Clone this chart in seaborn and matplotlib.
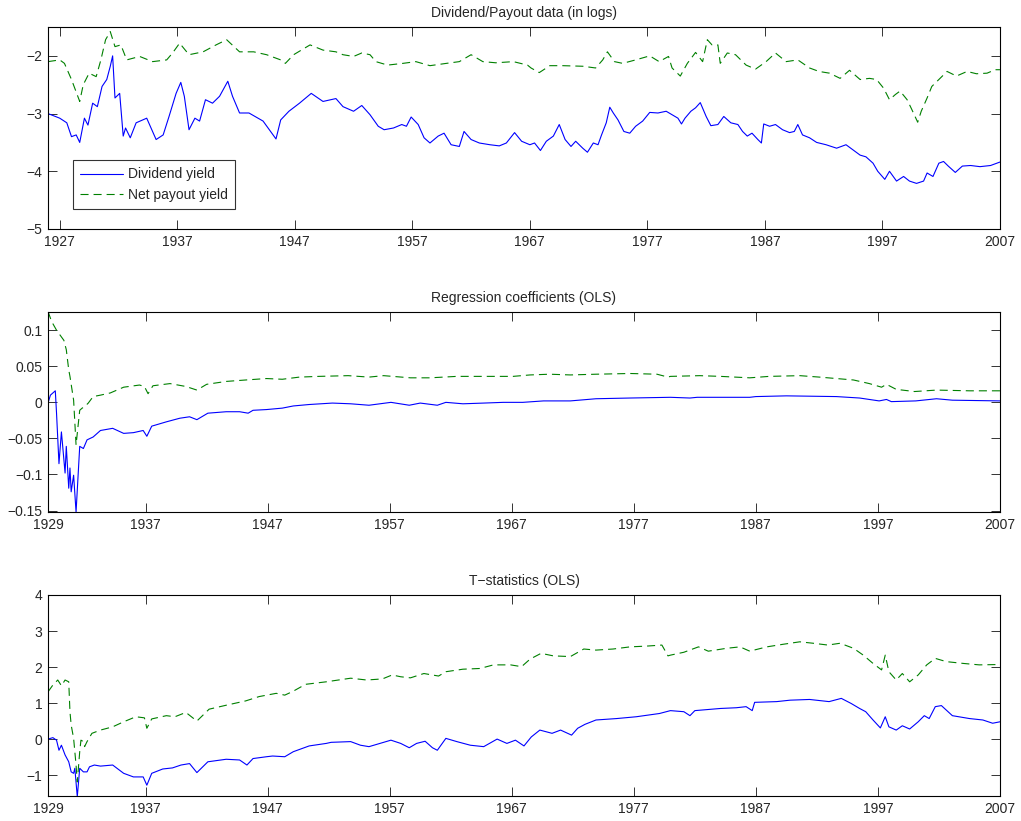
import matplotlib
matplotlib.use("Agg")
import matplotlib.pyplot as plt
import pandas as pd
import seaborn as sns

# ---- panel 1: dividend / payout data (in logs) ----
dy_years = [1926.0, 1927.0, 1927.6, 1928.0, 1928.4, 1928.7, 1929.1, 1929.4, 1929.8, 1930.2,
            1930.6, 1931.0, 1931.3, 1931.5, 1931.7, 1932.1, 1932.4, 1932.6, 1933.0, 1933.5,
            1934.4, 1935.2, 1935.8, 1936.3, 1936.9, 1937.3, 1937.6, 1938.0, 1938.5, 1938.9,
            1939.4, 1940.0, 1940.6, 1941.3, 1941.7, 1942.3, 1943.1, 1944.3, 1945.4, 1945.8,
            1946.5, 1947.4, 1948.4, 1949.4, 1950.5, 1951.1, 1952.0, 1952.7, 1953.4, 1954.1,
            1954.6, 1955.4, 1956.1, 1956.5, 1956.9, 1957.5, 1958.0, 1958.5, 1959.2, 1959.7,
            1960.3, 1961.0, 1961.4, 1962.0, 1962.7, 1963.6, 1964.4, 1965.0, 1965.7, 1966.3,
            1967.0, 1967.4, 1967.9, 1968.4, 1969.0, 1969.5, 1970.0, 1970.5, 1970.9, 1971.5,
            1971.9, 1972.4, 1972.8, 1973.1, 1973.5, 1973.8, 1974.1, 1974.5, 1975.0, 1975.5,
            1976.0, 1976.6, 1977.2, 1977.9, 1978.6, 1979.1, 1979.6, 1979.9, 1980.2, 1980.7,
            1981.1, 1981.5, 1982.0, 1982.4, 1983.0, 1983.5, 1984.1, 1984.7, 1985.1, 1985.5,
            1985.9, 1986.4, 1986.7, 1986.9, 1987.4, 1987.9, 1988.5, 1989.1, 1989.5, 1989.8,
            1990.2, 1990.8, 1991.4, 1992.2, 1993.1, 1993.9, 1994.5, 1995.1, 1995.6, 1996.2,
            1996.6, 1997.2, 1997.6, 1998.2, 1998.8, 1999.3, 1999.9, 2000.5, 2000.8, 2001.3,
            2001.8, 2002.2, 2002.6, 2003.2, 2003.8, 2004.5, 2005.3, 2006.2, 2007.0]
dy_logs = [-3.00, -3.08, -3.16, -3.40, -3.37, -3.50, -3.08, -3.20, -2.82, -2.88,
           -2.53, -2.41, -2.18, -2.00, -2.73, -2.65, -3.39, -3.25, -3.42, -3.16,
           -3.08, -3.45, -3.37, -3.05, -2.65, -2.46, -2.70, -3.28, -3.08, -3.13,
           -2.76, -2.82, -2.70, -2.44, -2.70, -2.99, -2.99, -3.13, -3.44, -3.11,
           -2.96, -2.82, -2.65, -2.79, -2.74, -2.88, -2.96, -2.86, -3.02, -3.22,
           -3.28, -3.25, -3.19, -3.22, -3.06, -3.19, -3.42, -3.51, -3.39, -3.34,
           -3.54, -3.57, -3.31, -3.45, -3.51, -3.54, -3.56, -3.51, -3.33, -3.48,
           -3.54, -3.51, -3.64, -3.48, -3.39, -3.19, -3.45, -3.57, -3.48, -3.60,
           -3.67, -3.51, -3.54, -3.37, -3.16, -2.89, -2.99, -3.11, -3.31, -3.34,
           -3.22, -3.13, -2.98, -2.99, -2.96, -3.02, -3.08, -3.18, -3.08, -2.96,
           -2.90, -2.81, -3.05, -3.21, -3.19, -3.05, -3.16, -3.19, -3.31, -3.39,
           -3.34, -3.45, -3.51, -3.18, -3.22, -3.19, -3.28, -3.33, -3.31, -3.19,
           -3.37, -3.42, -3.50, -3.54, -3.60, -3.54, -3.63, -3.72, -3.75, -3.86,
           -4.00, -4.14, -4.00, -4.17, -4.09, -4.17, -4.21, -4.17, -4.03, -4.09,
           -3.86, -3.83, -3.91, -4.02, -3.91, -3.90, -3.92, -3.90, -3.84]

npy_years = [1926.0, 1927.0, 1927.4, 1928.0, 1928.7, 1929.0, 1929.5, 1930.1, 1930.5, 1930.9,
             1931.3, 1931.7, 1932.2, 1932.7, 1933.8, 1934.9, 1936.1, 1936.6, 1937.2, 1938.0,
             1939.2, 1940.3, 1941.2, 1942.3, 1943.5, 1944.6, 1945.8, 1946.2, 1946.9, 1948.3,
             1949.4, 1950.5, 1951.1, 1952.0, 1952.7, 1953.4, 1953.9, 1954.9, 1956.2, 1957.3,
             1958.5, 1959.9, 1961.0, 1962.0, 1963.0, 1964.1, 1965.6, 1966.8, 1967.1, 1967.8,
             1968.7, 1969.8, 1971.5, 1972.6, 1973.2, 1973.6, 1974.2, 1974.9, 1976.0, 1977.2,
             1978.0, 1978.8, 1979.1, 1979.8, 1980.4, 1981.1, 1981.7, 1982.1, 1982.5, 1983.0,
             1983.2, 1983.8, 1984.5, 1985.4, 1986.2, 1987.1, 1987.9, 1988.8, 1989.8, 1990.8,
             1991.6, 1992.5, 1993.4, 1994.2, 1995.1, 1995.9, 1996.5, 1997.1, 1997.6, 1998.1,
             1998.5, 1999.1, 1999.5, 2000.0, 2000.3, 2000.8, 2001.2, 2001.8, 2002.5, 2003.3,
             2004.2, 2005.0, 2005.9, 2006.6, 2007.0]
npy_logs = [-2.10, -2.07, -2.13, -2.41, -2.79, -2.50, -2.30, -2.36, -2.07, -1.72,
            -1.58, -1.84, -1.81, -2.07, -2.01, -2.10, -2.07, -1.95, -1.78, -1.98,
            -1.93, -1.81, -1.72, -1.93, -1.93, -1.98, -2.07, -2.13, -1.98, -1.81,
            -1.90, -1.93, -1.98, -2.01, -1.95, -1.98, -2.10, -2.16, -2.13, -2.10,
            -2.17, -2.13, -2.10, -1.98, -2.10, -2.12, -2.10, -2.16, -2.21, -2.29,
            -2.17, -2.17, -2.18, -2.21, -2.07, -1.93, -2.10, -2.13, -2.07, -2.00,
            -2.10, -2.01, -2.21, -2.35, -2.13, -1.94, -2.10, -1.72, -1.81, -1.81,
            -2.13, -1.95, -1.98, -2.16, -2.23, -2.10, -1.95, -2.10, -2.07, -2.21,
            -2.27, -2.30, -2.39, -2.25, -2.41, -2.39, -2.41, -2.56, -2.76, -2.67,
            -2.61, -2.76, -2.93, -3.15, -2.96, -2.73, -2.53, -2.41, -2.27, -2.35,
            -2.27, -2.31, -2.30, -2.24, -2.24]

# ---- panel 2: regression coefficients (OLS) ----
coef_dy_years = [1929.0, 1929.2, 1929.4, 1929.6, 1929.7, 1929.9, 1930.1, 1930.4, 1930.5, 1930.7,
                 1930.8, 1930.9, 1931.1, 1931.3, 1931.6, 1931.9, 1932.2, 1932.7, 1933.3, 1934.3,
                 1935.2, 1936.0, 1936.8, 1937.1, 1937.5, 1938.7, 1939.8, 1940.6, 1941.2, 1942.1,
                 1943.6, 1944.7, 1945.4, 1945.8, 1946.9, 1948.2, 1949.1, 1950.4, 1952.3, 1953.8,
                 1955.3, 1957.1, 1958.6, 1959.5, 1960.9, 1961.6, 1963.0, 1964.7, 1966.3, 1967.9,
                 1969.6, 1971.8, 1973.9, 1976.7, 1980.0, 1981.6, 1982.2, 1986.5, 1987.0, 1989.5,
                 1993.6, 1995.5, 1997.1, 1997.7, 1998.1, 2000.1, 2001.8, 2003.1, 2007.0]
coef_dy = [-0.001, 0.010, 0.013, 0.016, -0.015, -0.085, -0.041, -0.098, -0.061, -0.119,
           -0.091, -0.124, -0.101, -0.152, -0.061, -0.064, -0.052, -0.048, -0.039, -0.036,
           -0.043, -0.042, -0.039, -0.047, -0.033, -0.027, -0.022, -0.020, -0.024, -0.015,
           -0.013, -0.013, -0.015, -0.011, -0.010, -0.008, -0.005, -0.003, -0.001, -0.002,
           -0.004, 0.000, -0.004, -0.001, -0.004, 0.000, -0.002, -0.001, 0.000, 0.000,
           0.002, 0.002, 0.005, 0.006, 0.007, 0.006, 0.007, 0.007, 0.008, 0.009,
           0.008, 0.006, 0.002, 0.004, 0.001, 0.002, 0.005, 0.003, 0.002]

coef_npy_years = [1929.0, 1929.3, 1929.7, 1930.0, 1930.3, 1930.5, 1930.7, 1930.8, 1931.1, 1931.3,
                  1931.6, 1931.8, 1932.0, 1932.3, 1932.7, 1933.3, 1934.1, 1935.2, 1936.5, 1936.9,
                  1937.2, 1937.6, 1939.0, 1940.3, 1941.2, 1942.0, 1943.6, 1945.2, 1946.9, 1948.2,
                  1949.6, 1951.2, 1953.6, 1955.3, 1956.5, 1958.7, 1960.3, 1962.5, 1964.7, 1967.1,
                  1968.5, 1970.1, 1971.8, 1973.9, 1976.7, 1978.9, 1979.8, 1980.0, 1982.4, 1984.1,
                  1986.5, 1988.1, 1990.6, 1992.2, 1993.6, 1995.0, 1996.3, 1997.3, 1997.7, 1998.5,
                  2000.0, 2001.8, 2004.5, 2007.0]
coef_npy = [0.126, 0.112, 0.100, 0.093, 0.086, 0.073, 0.045, 0.036, 0.003, -0.059,
            -0.011, -0.008, -0.006, -0.001, 0.008, 0.010, 0.013, 0.021, 0.024, 0.022,
            0.012, 0.023, 0.026, 0.022, 0.017, 0.025, 0.029, 0.031, 0.033, 0.032,
            0.035, 0.036, 0.037, 0.035, 0.037, 0.034, 0.034, 0.036, 0.036, 0.036,
            0.038, 0.039, 0.038, 0.039, 0.040, 0.039, 0.035, 0.036, 0.037, 0.036,
            0.034, 0.036, 0.037, 0.035, 0.033, 0.031, 0.026, 0.021, 0.025, 0.018,
            0.015, 0.017, 0.016, 0.016]

# ---- panel 3: t-statistics (OLS) ----
t_dy_years = [1929.0, 1929.4, 1929.7, 1929.9, 1930.1, 1930.4, 1930.7, 1930.9, 1931.1, 1931.2,
              1931.4, 1931.6, 1931.9, 1932.2, 1932.4, 1932.8, 1933.3, 1934.3, 1935.2, 1936.0,
              1936.8, 1937.1, 1937.5, 1938.4, 1939.2, 1939.9, 1940.6, 1941.2, 1942.1, 1943.6,
              1944.7, 1945.3, 1945.8, 1946.9, 1947.4, 1948.4, 1949.1, 1950.4, 1951.8, 1952.2,
              1953.8, 1954.6, 1955.3, 1956.2, 1957.1, 1957.9, 1958.6, 1959.2, 1959.9, 1960.5,
              1960.9, 1961.6, 1962.5, 1963.6, 1964.7, 1965.8, 1966.6, 1967.3, 1968.0, 1968.6,
              1969.3, 1970.3, 1971.0, 1971.9, 1972.4, 1973.0, 1973.9, 1975.6, 1977.2, 1979.1,
              1980.0, 1981.1, 1981.6, 1982.0, 1984.1, 1985.4, 1986.2, 1986.7, 1986.9, 1988.7,
              1989.8, 1991.4, 1993.0, 1994.0, 1994.8, 1995.5, 1996.0, 1996.6, 1997.2, 1997.6,
              1997.9, 1998.5, 1999.0, 1999.6, 2000.3, 2000.8, 2001.2, 2001.7, 2002.2, 2003.1,
              2004.5, 2005.6, 2006.4, 2007.0]
t_dy = [0.00, 0.04, -0.03, -0.31, -0.17, -0.44, -0.63, -0.91, -0.95, -0.81,
        -1.60, -0.81, -0.91, -0.91, -0.77, -0.72, -0.75, -0.72, -0.95, -1.05,
        -1.05, -1.28, -0.95, -0.83, -0.80, -0.72, -0.68, -0.93, -0.63, -0.56,
        -0.58, -0.72, -0.54, -0.49, -0.47, -0.49, -0.35, -0.19, -0.12, -0.09,
        -0.07, -0.17, -0.21, -0.12, -0.03, -0.12, -0.24, -0.12, -0.06, -0.24,
        -0.31, 0.02, -0.07, -0.17, -0.21, 0.00, -0.12, -0.03, -0.19, 0.06,
        0.25, 0.16, 0.25, 0.11, 0.30, 0.41, 0.53, 0.57, 0.62, 0.71,
        0.79, 0.76, 0.65, 0.79, 0.85, 0.87, 0.90, 0.79, 1.02, 1.04,
        1.08, 1.10, 1.04, 1.13, 0.99, 0.85, 0.76, 0.53, 0.31, 0.62,
        0.34, 0.25, 0.37, 0.28, 0.48, 0.65, 0.57, 0.90, 0.93, 0.65,
        0.57, 0.53, 0.44, 0.48]

t_npy_years = [1929.0, 1929.4, 1929.8, 1930.1, 1930.4, 1930.7, 1930.8, 1930.9, 1931.1, 1931.3,
               1931.4, 1931.6, 1931.7, 1931.9, 1932.0, 1932.2, 1932.6, 1933.3, 1934.3, 1935.2,
               1936.2, 1936.9, 1937.1, 1937.5, 1938.7, 1939.4, 1940.3, 1941.2, 1942.2, 1943.6,
               1945.2, 1946.3, 1947.7, 1948.4, 1949.1, 1950.1, 1951.8, 1953.8, 1955.1, 1956.4,
               1957.2, 1957.9, 1958.7, 1959.8, 1961.0, 1961.6, 1963.0, 1964.4, 1965.5, 1966.9,
               1967.8, 1968.5, 1969.4, 1970.4, 1971.8, 1972.9, 1973.9, 1975.3, 1976.7, 1978.0,
               1979.3, 1979.8, 1980.0, 1981.1, 1982.3, 1983.1, 1984.6, 1985.7, 1986.5, 1987.9,
               1989.2, 1990.6, 1991.7, 1992.9, 1993.9, 1995.0, 1995.8, 1996.6, 1997.3, 1997.6,
               1997.9, 1998.5, 1999.0, 1999.6, 2000.3, 2001.0, 2001.7, 2002.6, 2004.0, 2005.3,
               2007.0]
t_npy = [1.31, 1.50, 1.64, 1.48, 1.64, 1.59, 0.76, 0.39, 0.02, -0.72,
         -1.19, -0.35, -0.03, -0.07, -0.21, -0.07, 0.16, 0.25, 0.34, 0.48,
         0.62, 0.59, 0.30, 0.56, 0.65, 0.62, 0.74, 0.50, 0.83, 0.94,
         1.06, 1.18, 1.27, 1.22, 1.33, 1.52, 1.59, 1.69, 1.64, 1.67,
         1.78, 1.73, 1.70, 1.82, 1.75, 1.87, 1.94, 1.96, 2.06, 2.06,
         2.01, 2.22, 2.38, 2.31, 2.29, 2.50, 2.47, 2.50, 2.56, 2.58,
         2.61, 2.31, 2.33, 2.41, 2.56, 2.44, 2.52, 2.56, 2.44, 2.56,
         2.63, 2.70, 2.66, 2.61, 2.66, 2.52, 2.33, 2.10, 1.92, 2.33,
         1.87, 1.64, 1.82, 1.59, 1.78, 2.06, 2.24, 2.15, 2.10, 2.06,
         2.07]

titles = ["Dividend/Payout data (in logs)", "Regression coefficients (OLS)", "T\u2212statistics (OLS)"]
labels = ["Dividend yield", "Net payout yield"]

sns.set_style("ticks")
plt.rcParams["font.family"] = ["Liberation Sans", "DejaVu Sans"]
plt.rcParams["font.size"] = 10
plt.rcParams["lines.scale_dashes"] = False

fig = plt.figure(figsize=(10.21, 8.21), dpi=100)
left, width = 0.047, 0.9324
ax1 = fig.add_axes([left, 0.7211, width, 0.2460])
ax2 = fig.add_axes([left, 0.3760, width, 0.2443])
ax3 = fig.add_axes([left, 0.0300, width, 0.2453])

panels = [
    (ax1, dy_years, dy_logs, npy_years, npy_logs),
    (ax2, coef_dy_years, coef_dy, coef_npy_years, coef_npy),
    (ax3, t_dy_years, t_dy, t_npy_years, t_npy),
]

for ax, xb, yb, xg, yg in panels:
    d1 = pd.DataFrame({"year": xb, "val": yb})
    d2 = pd.DataFrame({"year": xg, "val": yg})
    sns.lineplot(data=d1, x="year", y="val", ax=ax, color="#0000ff", lw=0.8,
                 label=labels[0], legend=False)
    sns.lineplot(data=d2, x="year", y="val", ax=ax, color="#008000", lw=0.8,
                 linestyle="--", label=labels[1], legend=False)
    ax.lines[-1].set_dashes((5.8, 3.6))
    ax.set_xlabel("")
    ax.set_ylabel("")
    for s in ax.spines.values():
        s.set_visible(True)
        s.set_linewidth(0.8)
        s.set_color("black")
    ax.tick_params(direction="in", top=True, right=True, length=6.5, width=0.7,
                   color="#333333", labelsize=10, pad=4)

for ax, t in zip([ax1, ax2, ax3], titles):
    ax.set_title(t, fontsize=10, pad=7)

ax1.set_xlim(1926, 2007)
ax1.set_xticks(list(range(1927, 2008, 10)))
ax1.set_ylim(-5, -1.5)
ax1.set_yticks([-5, -4, -3, -2])

ticks23 = [1929] + list(range(1937, 2008, 10))
for ax in (ax2, ax3):
    ax.set_xlim(1929, 2007)
    ax.set_xticks(ticks23)
    ax.set_xticklabels([str(t) for t in ticks23])

ax2.set_ylim(-0.1524, 0.1256)
ax2.set_yticks([-0.15, -0.1, -0.05, 0, 0.05, 0.1])
ax2.set_yticklabels(["\u22120.15", "\u22120.1", "\u22120.05", "0", "0.05", "0.1"])

ax3.set_ylim(-1.59, 4)
ax3.set_yticks([-1, 0, 1, 2, 3, 4])

leg = ax1.legend(loc="lower left", bbox_to_anchor=(0.026, 0.0975), frameon=True,
                 fancybox=False, edgecolor="black", fontsize=10, handlelength=3.1,
                 borderpad=0.5, labelspacing=0.5, handletextpad=0.4, borderaxespad=0)
leg.get_frame().set_linewidth(0.8)

fig.savefig("out.png", dpi=100)
